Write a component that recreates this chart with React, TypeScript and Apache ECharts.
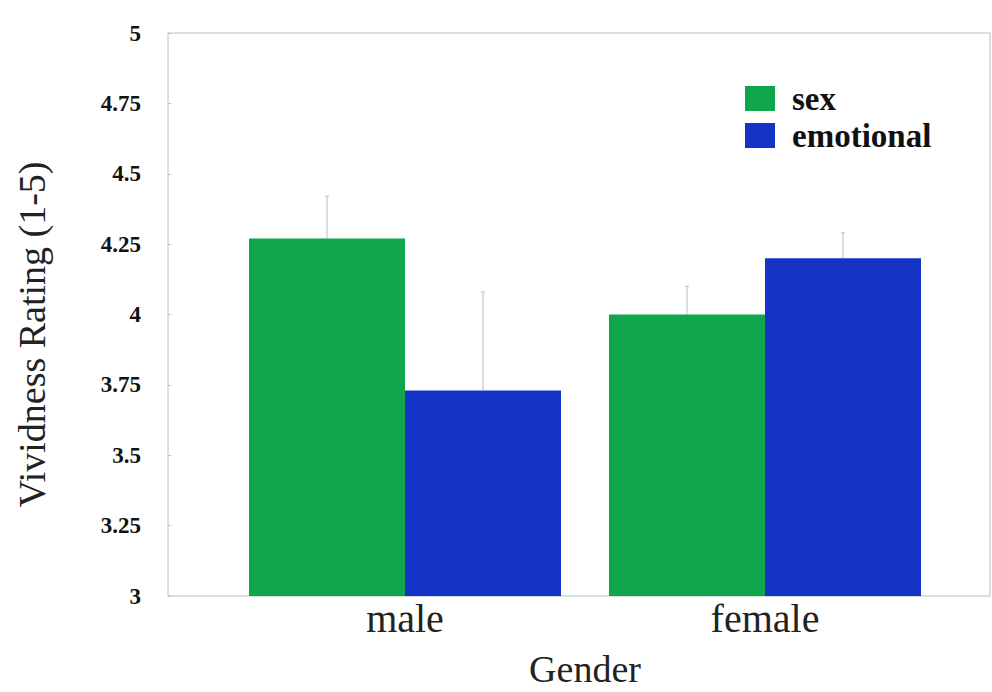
import React, { useEffect, useRef } from "react";
import * as echarts from "echarts";

const categories = ["male", "female"];
const seriesNames = ["sex", "emotional"];
const sexValues = [4.27, 4.0];
const emotionalValues = [3.73, 4.2];
const sexErrors = [0.15, 0.1];
const emotionalErrors = [0.35, 0.09];
const yMin = 3;
const yMax = 5;
const yStep = 0.25;

const GREEN = "#10a64b";
const BLUE = "#1434c6";
const SERIF = "'Liberation Serif', 'DejaVu Serif', serif";
const BAR_W = 156;

export default function App() {
  const ref = useRef<HTMLDivElement>(null);
  useEffect(() => {
    if (!ref.current) return;
    const chart = echarts.init(ref.current, null, { renderer: "svg" });

    const errorSeries = (values: number[], errs: number[], offset: number, name: string) => ({
      type: "custom",
      name: name + "-err",
      xAxisIndex: 1,
      yAxisIndex: 1,
      silent: true,
      z: 1,
      data: values.map((v, i) => [i, v, v + errs[i]]),
      renderItem: (params: any, api: any) => {
        const lo = api.coord([api.value(0), api.value(1)]);
        const hi = api.coord([api.value(0), api.value(2)]);
        const x = lo[0] + offset;
        const style = { stroke: "#b9c9ce", lineWidth: 1.2 };
        return {
          type: "group",
          children: [
            { type: "line", shape: { x1: x, y1: lo[1], x2: x, y2: hi[1] }, style },
            { type: "line", shape: { x1: x - 2, y1: hi[1], x2: x + 2, y2: hi[1] }, style },
          ],
        };
      },
    });

    chart.setOption({
      animation: false,
      backgroundColor: "#ffffff",
      grid: [
        {
          left: 168,
          right: 2,
          top: 33,
          bottom: 96,
          show: true,
          borderColor: "#b3c2cc",
          borderWidth: 1,
          backgroundColor: "transparent",
          outerBoundsMode: "none",
        },
        { left: 225, right: 47, top: 33, bottom: 96, outerBoundsMode: "none" },
      ],
      legend: {
        orient: "vertical",
        left: 740,
        top: 77,
        itemWidth: 30,
        itemHeight: 25,
        itemGap: 4,
        icon: "rect",
        data: seriesNames,
        textStyle: {
          fontFamily: SERIF,
          fontWeight: "bold",
          fontSize: 33,
          lineHeight: 32,
          color: "#111",
          padding: [0, 0, 0, 12],
        },
      },
      xAxis: [
        {
          type: "value",
          gridIndex: 0,
          min: 0,
          max: 1,
          show: false,
        },
        {
          type: "category",
          gridIndex: 1,
          data: categories,
          axisLine: { show: false },
          axisTick: { show: false },
          axisLabel: { fontFamily: SERIF, fontSize: 40, color: "#222", margin: 2 },
          name: "Gender",
          nameLocation: "middle",
          nameGap: 58,
          nameTextStyle: { fontFamily: SERIF, fontSize: 38, lineHeight: 30, color: "#222" },
        },
      ],
      yAxis: [
        {
          type: "value",
          gridIndex: 0,
          min: yMin,
          max: yMax,
          interval: yStep,
          splitLine: { show: false },
          axisLine: { show: false },
          axisTick: { show: true, inside: true, length: 3, lineStyle: { color: "#b3c2cc" } },
          axisLabel: { fontFamily: SERIF, fontWeight: "bold", fontSize: 23, color: "#111", margin: 27 },
          name: "Vividness Rating (1-5)",
          nameLocation: "middle",
          nameGap: 117,
          nameTextStyle: { fontFamily: SERIF, fontSize: 38, color: "#222", padding: [0, 0, 0, -40] },
        },
        {
          type: "value",
          gridIndex: 1,
          min: yMin,
          max: yMax,
          show: false,
          splitLine: { show: false },
        },
      ],
      series: [
        {
          type: "bar",
          name: seriesNames[0],
          xAxisIndex: 1,
          yAxisIndex: 1,
          data: sexValues,
          barWidth: BAR_W,
          barGap: "0%",
          itemStyle: { color: GREEN },
          z: 2,
        },
        {
          type: "bar",
          name: seriesNames[1],
          xAxisIndex: 1,
          yAxisIndex: 1,
          data: emotionalValues,
          barWidth: BAR_W,
          barGap: "0%",
          itemStyle: { color: BLUE },
          z: 2,
        },
        errorSeries(sexValues, sexErrors, -BAR_W / 2, seriesNames[0]),
        errorSeries(emotionalValues, emotionalErrors, BAR_W / 2, seriesNames[1]),
      ],
    });
    return () => chart.dispose();
  }, []);
  return <div ref={ref} style={{ position: "fixed", left: 0, top: 0, width: 992, height: 692 }} />;
}
